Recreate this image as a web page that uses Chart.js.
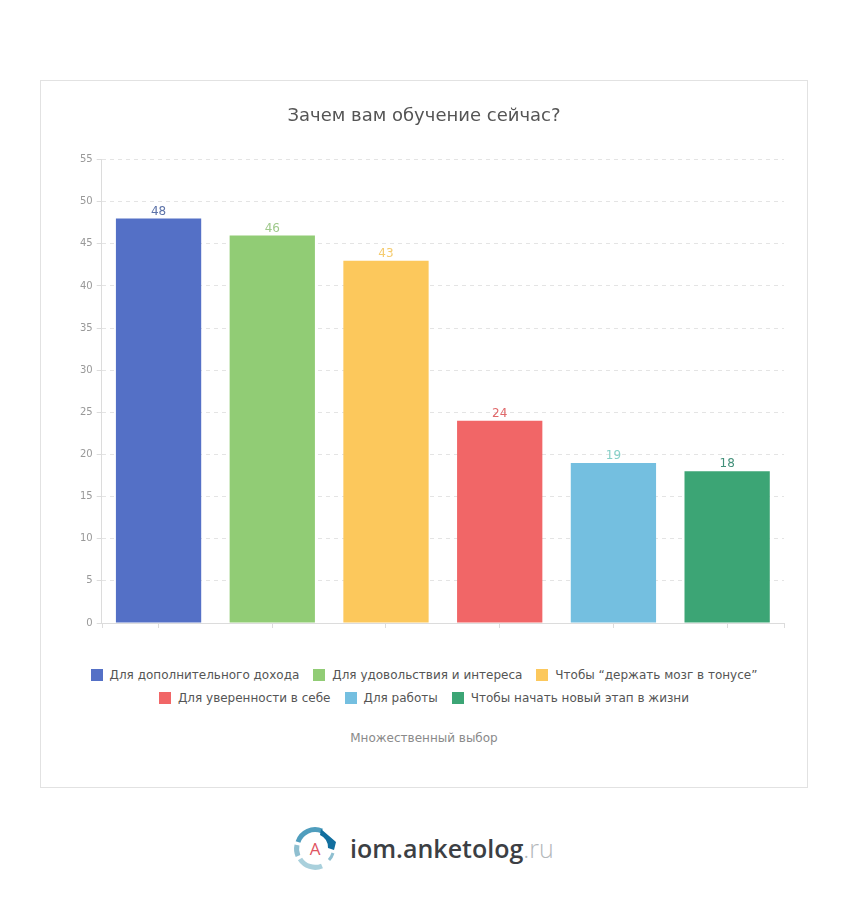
<!DOCTYPE html>
<html lang="ru">
<head>
<meta charset="utf-8">
<title>Зачем вам обучение сейчас?</title>
<script src="https://cdn.jsdelivr.net/npm/chart.js@4/dist/chart.umd.min.js"></script>
<style>
    html, body { margin: 0; padding: 0; background: #fff; }
    body { width: 848px; height: 910px; position: relative; overflow: hidden; font-family: "DejaVu Sans", sans-serif; }
    #card { position: absolute; left: 40px; top: 80px; width: 766px; height: 706px; border: 1px solid #e2e2e2; }
    #chartWrap { position: absolute; left: 0; top: 0; width: 766px; height: 552px; }
    #legend { position: absolute; left: 0; top: 582px; width: 766px; font-size: 12px; color: #555; }
    .legend-row { display: flex; justify-content: center; height: 23px; align-items: center; }
    .legend-item { display: flex; align-items: center; margin: 0 7px; white-space: nowrap; }
    .legend-box { width: 12px; height: 12px; margin-right: 7px; }
    #note { position: absolute; left: 0; top: 650px; width: 766px; text-align: center; font-size: 12px; color: #8a8a8a; }
    #logo { position: absolute; left: 292px; top: 826px; width: 270px; height: 46px; }
    #logoText { position: absolute; left: 58px; top: 4px; font-family: "Open Sans", sans-serif; font-weight: 600; font-size: 25px; line-height: 36px; color: #3c3f44; white-space: nowrap; }
    #logoText span { color: #b4b8bb; font-weight: 300; }
</style>
</head>
<body>
<div id="card">
    <div id="chartWrap"><canvas id="surveyChart"></canvas></div>
    <div id="legend"></div>
    <div id="note">Множественный выбор</div>
</div>
<div id="logo">
    <svg width="48" height="46" viewBox="0 0 48 46">
        <path d="M6 30 A18 18 0 0 1 5 19" fill="none" stroke="#8fbfd0" stroke-width="5"/>
        <path d="M6 16 A18 18 0 0 1 30 5" fill="none" stroke="#4f9dbd" stroke-width="5"/>
        <path d="M29 3 L44 16 L42 24 L36 22 A14 14 0 0 0 28 9 Z" fill="#126f9f"/>
        <path d="M41 27 A18 18 0 0 1 37 34" fill="none" stroke="#8fbfd0" stroke-width="3"/>
        <path d="M8 33 A18 18 0 0 0 30 40" fill="none" stroke="#a9d0dc" stroke-width="5"/>
        <text x="23" y="29" text-anchor="middle" font-family="Open Sans" font-size="17" fill="#e0545f">A</text>
    </svg>
    <div id="logoText">iom.anketolog<span>.ru</span></div>
</div>
<script>
const categories = [
    'Для дополнительного дохода',
    'Для удовольствия и интереса',
    'Чтобы “держать мозг в тонусе”',
    'Для уверенности в себе',
    'Для работы',
    'Чтобы начать новый этап в жизни'
];
const answers = [48, 46, 43, 24, 19, 18];
const barColors = ['#5470c6', '#91cc75', '#fcc85c', '#f16667', '#74bfe0', '#3ca575'];
const labelColors = ['#5d73a9', '#9fc98b', '#f5cb6e', '#e0686a', '#86d0c8', '#42907a'];
const legendRows = [[0, 1, 2], [3, 4, 5]];

// Легенда в HTML: у встроенной нельзя задать разные отступы по горизонтали и вертикали
const legendEl = document.getElementById('legend');
legendRows.forEach(row => {
    const rowEl = document.createElement('div');
    rowEl.className = 'legend-row';
    row.forEach(i => {
        const item = document.createElement('div');
        item.className = 'legend-item';
        const box = document.createElement('span');
        box.className = 'legend-box';
        box.style.background = barColors[i];
        const text = document.createElement('span');
        text.textContent = categories[i];
        item.append(box, text);
        rowEl.appendChild(item);
    });
    legendEl.appendChild(rowEl);
});

// Подписи значений над столбцами и крайние засечки оси X
const barExtras = {
    id: 'barExtras',
    afterDatasetsDraw(chart) {
        const { ctx, chartArea } = chart;
        const meta = chart.getDatasetMeta(0);
        ctx.save();
        ctx.font = '12px "DejaVu Sans"';
        ctx.textAlign = 'center';
        ctx.textBaseline = 'bottom';
        meta.data.forEach((bar, i) => {
            ctx.fillStyle = labelColors[i];
            ctx.fillText(answers[i], bar.x, bar.y - 1);
        });
        ctx.strokeStyle = '#dcdcdc';
        ctx.lineWidth = 1;
        [chartArea.left, chartArea.right].forEach(x => {
            ctx.beginPath();
            ctx.moveTo(Math.round(x) + 0.5, chartArea.bottom);
            ctx.lineTo(Math.round(x) + 0.5, chartArea.bottom + 5);
            ctx.stroke();
        });
        ctx.restore();
    }
};

new Chart(document.getElementById('surveyChart'), {
    type: 'bar',
    data: {
        labels: categories,
        datasets: [{
            data: answers,
            backgroundColor: barColors,
            borderWidth: 0,
            categoryPercentage: 0.75,
            barPercentage: 1
        }]
    },
    options: {
        responsive: true,
        maintainAspectRatio: false,
        animation: false,
        layout: { padding: { left: 23, right: 23, top: 0, bottom: 0 } },
        plugins: {
            legend: { display: false },
            tooltip: { enabled: false },
            title: {
                display: true,
                text: 'Зачем вам обучение сейчас?',
                color: '#555',
                font: { family: '"DejaVu Sans"', size: 18, weight: 'normal', lineHeight: 1.2 },
                padding: { top: 25, bottom: 32 }
            }
        },
        scales: {
            x: {
                grid: { display: true, offset: false, drawOnChartArea: false, tickLength: 5, tickColor: '#dcdcdc' },
                border: { color: '#dcdcdc' },
                ticks: { display: false },
                afterFit(scale) { scale.height = 9; }
            },
            y: {
                min: 0,
                max: 55,
                grid: { color: '#e4e4e4', tickColor: '#dcdcdc', tickLength: 5, tickBorderDash: [] },
                border: { color: '#dcdcdc', dash: [4, 4] },
                ticks: {
                    stepSize: 5,
                    color: '#999',
                    padding: 4,
                    font: { family: '"DejaVu Sans"', size: 10 }
                },
                afterFit(scale) { scale.width = 37.7; }
            }
        }
    },
    plugins: [barExtras]
});
</script>
</body>
</html>
